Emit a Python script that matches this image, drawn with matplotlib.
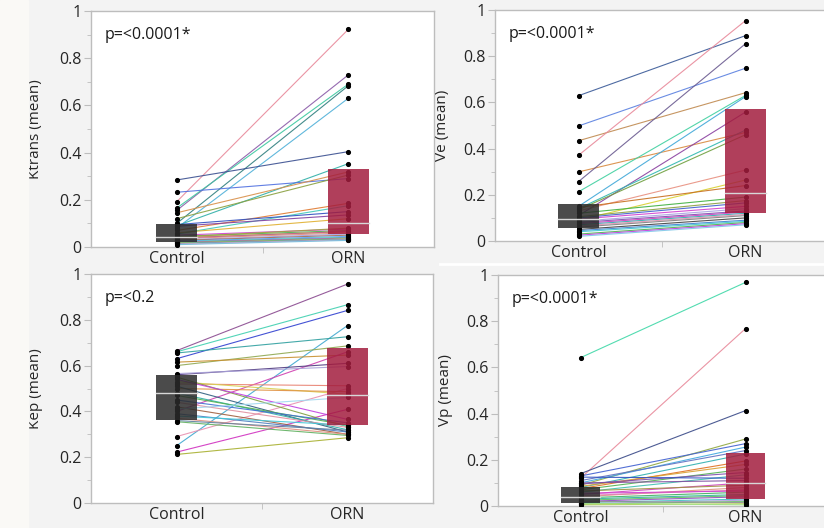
import numpy as np
import matplotlib
matplotlib.use("Agg")
import matplotlib.pyplot as plt
from matplotlib.patches import Rectangle
from matplotlib.lines import Line2D

plt.rcParams['font.family'] = ['Open Sans', 'DejaVu Sans']

categories = ["Control", "ORN"]

# paired values per subject (control, ORN)
ktrans_control = [0.192, 0.155, 0.165, 0.100, 0.080, 0.284, 0.090, 0.232, 0.145, 0.120,
                  0.070, 0.055, 0.095, 0.088, 0.060, 0.050, 0.045, 0.040, 0.035, 0.030,
                  0.028, 0.025, 0.022, 0.020, 0.018, 0.015, 0.012, 0.010, 0.042, 0.038]
ktrans_orn = [0.922, 0.729, 0.690, 0.683, 0.630, 0.404, 0.353, 0.290, 0.318, 0.305,
              0.185, 0.175, 0.150, 0.136, 0.120, 0.076, 0.070, 0.065, 0.060, 0.055,
              0.050, 0.045, 0.041, 0.038, 0.035, 0.032, 0.030, 0.028, 0.080, 0.066]

ve_control = [0.629, 0.498, 0.434, 0.371, 0.299, 0.257, 0.213, 0.150, 0.110, 0.140,
              0.135, 0.130, 0.090, 0.145, 0.120, 0.105, 0.100, 0.095, 0.085, 0.080,
              0.075, 0.070, 0.065, 0.060, 0.050, 0.045, 0.040, 0.030, 0.025, 0.020]
ve_orn = [0.889, 0.748, 0.642, 0.954, 0.470, 0.854, 0.630, 0.625, 0.558, 0.480,
          0.460, 0.307, 0.264, 0.240, 0.190, 0.175, 0.165, 0.150, 0.140, 0.130,
          0.125, 0.120, 0.115, 0.110, 0.100, 0.090, 0.085, 0.080, 0.075, 0.070]

kep_control = [0.665, 0.660, 0.630, 0.250, 0.655, 0.600, 0.615, 0.400, 0.560, 0.565,
               0.520, 0.290, 0.222, 0.212, 0.530, 0.500, 0.550, 0.540, 0.510, 0.480,
               0.470, 0.450, 0.440, 0.420, 0.390, 0.380, 0.370, 0.360, 0.410, 0.355]
kep_orn = [0.956, 0.866, 0.841, 0.775, 0.726, 0.686, 0.646, 0.660, 0.610, 0.596,
           0.512, 0.500, 0.409, 0.285, 0.475, 0.486, 0.333, 0.365, 0.310, 0.320,
           0.340, 0.350, 0.330, 0.300, 0.310, 0.340, 0.300, 0.318, 0.461, 0.295]

vp_control = [0.642, 0.120, 0.140, 0.090, 0.130, 0.100, 0.110, 0.080, 0.075, 0.085,
              0.070, 0.095, 0.060, 0.125, 0.050, 0.065, 0.040, 0.045, 0.035, 0.030,
              0.025, 0.020, 0.015, 0.010, 0.008, 0.005, 0.012, 0.055, 0.100, 0.020]
vp_orn = [0.968, 0.768, 0.413, 0.290, 0.270, 0.255, 0.240, 0.225, 0.195, 0.180,
          0.160, 0.145, 0.135, 0.120, 0.100, 0.090, 0.080, 0.070, 0.060, 0.050,
          0.045, 0.040, 0.030, 0.025, 0.020, 0.010, 0.005, 0.065, 0.110, 0.015]

# quantile boxes (q1, median, q3) for Control and ORN
ktrans_box = [(0.020, 0.041, 0.096), (0.054, 0.100, 0.329)]
ve_box = [(0.058, 0.094, 0.161), (0.123, 0.206, 0.573)]
kep_box = [(0.363, 0.481, 0.557), (0.340, 0.471, 0.675)]
vp_box = [(0.014, 0.040, 0.084), (0.030, 0.101, 0.228)]

p_labels = ["p=<0.0001*", "p=<0.0001*", "p=<0.2", "p=<0.0001*"]
y_labels = ["Ktrans (mean)", "Ve (mean)", "Kep (mean)", "Vp (mean)"]

# line colours, roughly the JMP subject colours
ktrans_colors = ['#e8899a', '#8a5aa8', '#3cc8a0', '#2f7f7f', '#4fb0d8', '#3a4f90', '#30b0a8',
                 '#5070e0', '#d8904a', '#8aa040', '#e07a30', '#40c8b8', '#3050c0', '#8040a0',
                 '#e0b030', '#d040d0', '#50b050', '#c8c830', '#e09080', '#a8a0e0', '#a07050',
                 '#60a0ff', '#40d0a0', '#b050c0', '#90c050', '#5090b0', '#e0a0c0', '#70c0e0',
                 '#a0a040', '#c06090']
ve_colors = ['#3a5a98', '#5a80e0', '#c08a50', '#e8899a', '#d88a40', '#6a5a90', '#40d0a0',
             '#40a8d8', '#8a40a0', '#30b8b0', '#70a040', '#e89080', '#d8d030', '#c87020',
             '#40b040', '#8aa040', '#4060d0', '#d040d0', '#a8a0e0', '#8050b0', '#d040c0',
             '#30b0b0', '#e090b0', '#808080', '#404040', '#4080d0', '#40c8d0', '#50b050',
             '#c040e0', '#80c8e8']
kep_colors = ['#8a4a90', '#40d0b0', '#3040d0', '#40a8d0', '#30a0a0', '#90a850', '#c89030',
              '#d040b0', '#503a80', '#a8a0d8', '#e88070', '#e890b0', '#d030c0', '#a8b030',
              '#d8d050', '#e09040', '#80a040', '#c040e0', '#306080', '#30b0a8', '#50b050',
              '#4070d0', '#e090a0', '#a06040', '#5080c0', '#40c8d8', '#e09080', '#6080a0',
              '#a0d8f0', '#60b060']
vp_colors = ['#40d8a8', '#e8899a', '#3a4a88', '#90a840', '#4060d0', '#40a8e0', '#6070c0',
             '#30b0b0', '#e07020', '#d8a030', '#50b050', '#8050b0', '#40c0b0', '#3050c0',
             '#d040c0', '#a09040', '#e09080', '#e080b0', '#40b060', '#30b0a0', '#60c060',
             '#9050c0', '#40c0c0', '#b0a0e0', '#70c070', '#b0d050', '#a0e080', '#d040d0',
             '#8050a0', '#909090']

panels = [
    (ktrans_control, ktrans_orn, ktrans_box, ktrans_colors, [91, 11, 434, 247], -48),
    (ve_control, ve_orn, ve_box, ve_colors, [495, 10, 829, 241], -45),
    (kep_control, kep_orn, kep_box, kep_colors, [91, 274, 433, 503], -48),
    (vp_control, vp_orn, vp_box, vp_colors, [498, 275, 828, 506], -45),
]

W, H = 824, 528
fig = plt.figure(figsize=(W / 100, H / 100), dpi=100, facecolor='#f3f3f3')
fig.patches.append(Rectangle((0, 0), 28 / W, 1, transform=fig.transFigure,
                             color='#faf9f6', zorder=0))
fig.add_artist(Line2D([440 / W, 1], [1 - 264 / H, 1 - 264 / H], color='white', lw=2))

frame_col = '#bdbdbd'
text_col = '#262626'
box_w = 0.24

for i, (ctrl, orn, box, cols, px, lab_off) in enumerate(panels):
    l, t, r, b = px
    ax = fig.add_axes([l / W, 1 - b / H, (r - l) / W, (b - t) / H])
    ax.set_facecolor('white')

    # paired lines
    for c, o, col in zip(ctrl, orn, cols):
        ax.plot([0, 1], [c, o], color=col, lw=0.8, alpha=0.9, zorder=2)

    ax.plot(np.zeros(len(ctrl)), ctrl, 'o', color='black', ms=2.7, zorder=3)
    ax.plot(np.ones(len(orn)), orn, 'o', color='black', ms=2.7, zorder=3)

    # quantile boxes
    for k, (q1, med, q3) in enumerate(box):
        fc = '#2b2b2b' if k == 0 else '#a31d3e'
        ax.add_patch(Rectangle((k - box_w / 2, q1), box_w, q3 - q1,
                               facecolor=fc, edgecolor='none', alpha=0.85, zorder=4))
        ax.plot([k - box_w / 2, k + box_w / 2], [med, med], color='#d8d8d8', lw=1, zorder=5)

    ax.set_xlim(-0.5, 1.5)
    ax.set_ylim(0, 1)
    ax.set_xticks([0, 1])
    ax.set_xticklabels(categories)
    ax.set_xticks([0.5], minor=True)
    ax.tick_params(axis='x', which='major', length=0, labelsize=11.5, labelcolor=text_col, pad=3)
    ax.tick_params(axis='x', which='minor', length=4, color=frame_col)

    ax.set_yticks([0, 0.2, 0.4, 0.6, 0.8, 1.0])
    ax.set_yticklabels(["0", "0.2", "0.4", "0.6", "0.8", "1"])
    ax.set_yticks(np.arange(0.1, 1.0, 0.2), minor=True)
    ax.tick_params(axis='y', which='major', length=5, color=frame_col, labelsize=11.5,
                   labelcolor=text_col, pad=2)
    ax.tick_params(axis='y', which='minor', length=3, color=frame_col)

    for s in ax.spines.values():
        s.set_color(frame_col)
        s.set_linewidth(1)

    ax.set_ylabel(y_labels[i], fontsize=11, color=text_col)
    ax.yaxis.set_label_coords(lab_off / (r - l), 0.5)

    ax.text(14 / (r - l), 1 - 24 / (b - t), p_labels[i], transform=ax.transAxes,
            fontsize=11.5, color='#1a1a1a', va='center', ha='left')

fig.savefig("out.png", dpi=100, facecolor=fig.get_facecolor())
